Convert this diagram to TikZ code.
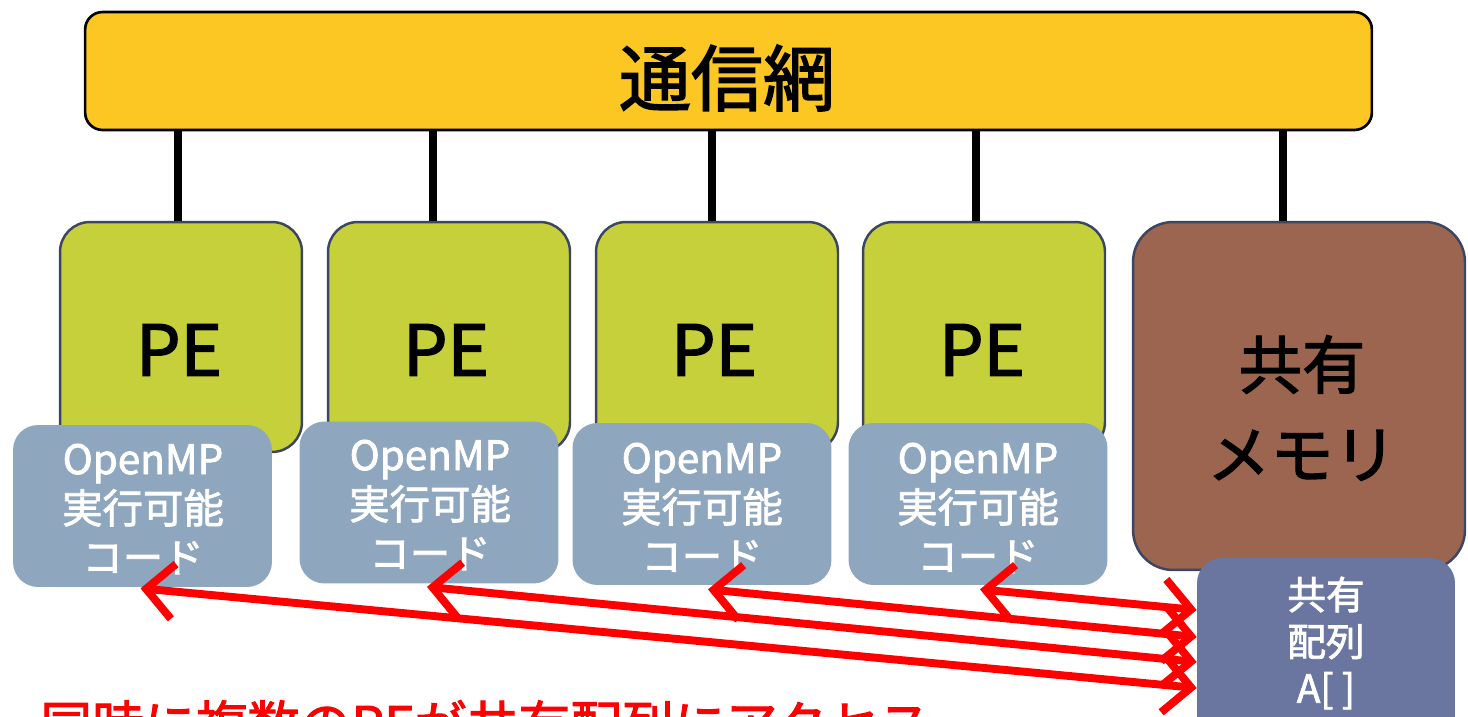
\documentclass[tikz,border=0pt]{standalone}
\usepackage{fontspec}
\setmainfont{Noto Sans CJK JP}
\newfontfamily\medfont{Noto Sans CJK JP}[FakeBold=2]
\usetikzlibrary{calc,arrows.meta}
\definecolor{netfill}{HTML}{FCC623}
\definecolor{pefill}{HTML}{C6D03A}
\definecolor{memfill}{HTML}{9C6550}
\definecolor{ompfill}{HTML}{8EA6BE}
\definecolor{arrfill}{HTML}{6A76A0}
\definecolor{edgecol}{HTML}{3C4660}
\definecolor{redline}{HTML}{FF0000}
\tikzset{
  netbox/.style={rectangle, rounded corners=0.35cm, fill=netfill, draw=black, line width=1.5pt,
    minimum width=25.74cm, minimum height=2.36cm, inner sep=0pt},
  pebox/.style={rectangle, rounded corners=0.6cm, fill=pefill, draw=edgecol, line width=1.4pt,
    minimum width=4.84cm, minimum height=4.6cm, inner sep=0pt},
  membox/.style={rectangle, rounded corners=0.8cm, fill=memfill, draw=edgecol, line width=1.4pt,
    minimum width=6.64cm, minimum height=6.96cm, inner sep=0pt},
  ompbox/.style={rectangle, rounded corners=0.5cm, fill=ompfill, draw=none,
    minimum width=5.18cm, minimum height=3.24cm, inner sep=0pt},
  omptext/.style={text=white, align=center, inner sep=0pt,
    font=\medfont\fontsize{23}{28}\selectfont},
  arrbox/.style={rectangle, rounded corners=0.5cm, fill=arrfill, draw=none,
    minimum width=5.16cm, minimum height=3.64cm, inner sep=0pt},
  conn/.style={draw=black, line width=5pt},
  access/.style={draw=redline, line width=4.5pt,
    {Straight Barb[length=0.55cm,width=1.1cm]}-{Straight Barb[length=0.55cm,width=1.1cm]}},
  petext/.style={font=\medfont\fontsize{40}{44}\selectfont, text=black, inner sep=0pt},
}
\begin{document}
\begin{tikzpicture}[x=0.02cm,y=-0.02cm]
\useasboundingbox (0,0) rectangle (1468,717);
\clip (0,0) rectangle (1468,717);
\fill[white] (0,0) rectangle (1468,717);

% network bar
\node[netbox] (net) at (728.5,71) {};
\node[font=\medfont\fontsize{41}{44}\selectfont, inner sep=0pt] (nettext) at (727,78) {通信網};

% PE boxes
\node[pebox] (pe1) at (181,337) {};
\node[pebox] (pe2) at (449,337) {};
\node[pebox] (pe3) at (717,337) {};
\node[pebox] (pe4) at (984,337) {};
\node[petext] (pe1t) at (179,350) {PE};
\node[petext] (pe2t) at (446,350) {PE};
\node[petext] (pe3t) at (714,350) {PE};
\node[petext] (pe4t) at (982,350) {PE};

% shared memory
\node[membox] (mem) at (1299,396) {};
\node[font=\medfont\fontsize{36}{51}\selectfont, align=center, inner sep=0pt] (memtext) at (1302,408) {共有\\メモリ};

% connectors to network
\foreach \p/\dx in {pe1/-3,pe2/-16,pe3/-5,pe4/-8}{
  \draw[conn] ([xshift=\dx*0.02cm]\p.north) -- ([xshift=\dx*0.02cm]\p.north |- net.south);
}
\draw[conn] ([xshift=-0.32cm]mem.north) -- ([xshift=-0.32cm]mem.north |- net.south);

% OpenMP code boxes
\node[ompbox] (omp1) at (142.5,506) {};
\node[ompbox] (omp2) at (429,502.5) {};
\node[ompbox] (omp3) at (702,504) {};
\node[ompbox] (omp4) at (978,504) {};
\node[omptext] (omp1t) at (143,509) {OpenMP\\実行可能\\コード};
\node[omptext] (omp2t) at (430,505) {OpenMP\\実行可能\\コード};
\node[omptext] (omp3t) at (702,508) {OpenMP\\実行可能\\コード};
\node[omptext] (omp4t) at (978,508) {OpenMP\\実行可能\\コード};

% shared array
\node[arrbox] (arr) at (1326,649) {};
\node[text=white, align=center, font=\medfont\fontsize{22}{26.6}\selectfont, inner sep=0pt] (arrtext) at (1326,643) {共有\\配列\\A[ ]};

% access arrows
\coordinate (r1) at ($(arr.west)+(0,39)$);
\coordinate (r2) at ($(arr.west)+(0,13)$);
\coordinate (r3) at ($(arr.west)+(0,-12)$);
\coordinate (r4) at ($(arr.west)+(0,-39)$);
\coordinate (l1) at ($(omp1.south)+(-2,1)$);
\coordinate (l2) at ($(omp2.south)+(-2,3)$);
\coordinate (l3) at ($(omp3.south)+(6,4)$);
\coordinate (l4) at ($(omp4.south)+(2,4)$);
\draw[access] (l1) -- (r1);
\draw[access] (l2) -- (r2);
\draw[access] (l3) -- (r3);
\draw[access] (l4) -- (r4);

% caption (cut off at bottom, as in the reference)
\node[anchor=base west, text=redline, font=\medfont\fontsize{29.5}{32}\selectfont, inner sep=0pt] (caption) at (40,744) {同時に複数のPEが共有配列にアクセス};
\end{tikzpicture}
\end{document}
